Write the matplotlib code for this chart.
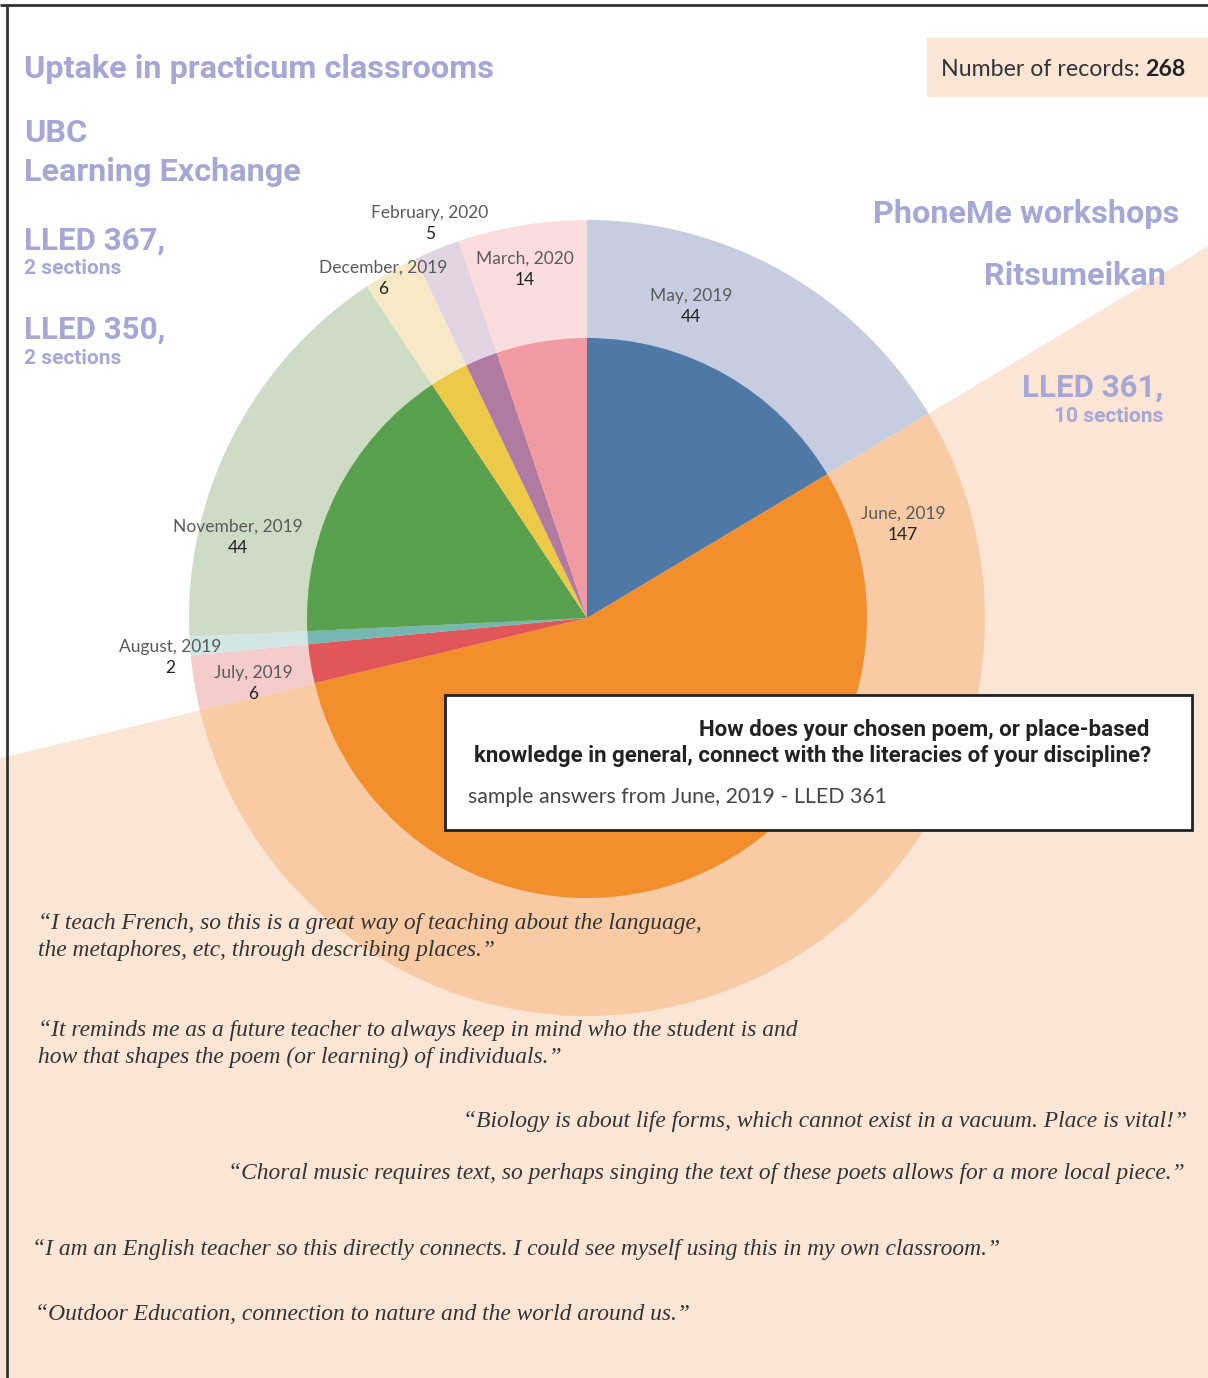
import matplotlib
matplotlib.use('Agg')
import matplotlib.pyplot as plt
from matplotlib.patches import Rectangle

W, H = 1208, 1378

# data
months = ["May, 2019", "June, 2019", "July, 2019", "August, 2019",
          "November, 2019", "December, 2019", "February, 2020", "March, 2020"]
counts = [44, 147, 6, 2, 44, 6, 5, 14]
total_records = 268

inner_colors = ["#4e79a7", "#f28e2b", "#e15759", "#76b7b2",
                "#59a14f", "#edc948", "#b07aa1", "#f29aa4"]
outer_colors = ["#c6cde0", "#f8cba4", "#f4cccb", "#d3e6e6",
                "#cfdcc5", "#f7e9c6", "#e2d4e0", "#fbdcdf"]
bg_colors = ["none", "#fbe6d6", "none", "none", "none", "none", "none", "none"]

# label placement (pixel coords of the month name; count sits below)
label_pos = [(691, 296), (903, 514), (253, 673), (170, 647),
             (238, 527), (383, 268), (430, 213), (525, 259)]

quotes = [
    ("\u201cI teach French, so this is a great way of teaching about the language,\nthe metaphores, etc, through describing places.\u201d", 38, 937, 'left'),
    ("\u201cIt reminds me as a future teacher to always keep in mind who the student is and\nhow that shapes the poem (or learning) of individuals.\u201d", 38, 1044, 'left'),
    ("\u201cBiology is about life forms, which cannot exist in a vacuum. Place is vital!\u201d", 1187, 1122, 'right'),
    ("\u201cChoral music requires text, so perhaps singing the text of these poets allows for a more local piece.\u201d", 1185, 1173, 'right'),
    ("\u201cI am an English teacher so this directly connects. I could see myself using this in my own classroom.\u201d", 32, 1249, 'left'),
    ("\u201cOutdoor Education, connection to nature and the world around us.\u201d", 35, 1314, 'left'),
]

LAV = "#a7a7d7"
cx, cy = 587, 618

fig = plt.figure(figsize=(W / 100, H / 100), dpi=100, facecolor='white')
ax = fig.add_axes([0, 0, 1, 1])

def Y(y):
    return H - y

# background wedge for the LLED 361 group, outer ring, inner pie
ax.pie(counts, radius=3000, center=(cx, Y(cy)), startangle=90, counterclock=False,
       colors=bg_colors, wedgeprops=dict(linewidth=0, zorder=0), frame=True)
ax.pie(counts, radius=398, center=(cx, Y(cy)), startangle=90, counterclock=False,
       colors=outer_colors, wedgeprops=dict(linewidth=0, zorder=1), frame=True)
ax.pie(counts, radius=280, center=(cx, Y(cy)), startangle=90, counterclock=False,
       colors=inner_colors, wedgeprops=dict(linewidth=0, zorder=2), frame=True)

ax.set_xlim(0, W)
ax.set_ylim(0, H)
ax.set_aspect('auto')
ax.axis('off')

# slice labels
for m, c, (lx, ly) in zip(months, counts, label_pos):
    ax.text(lx, Y(ly), m, ha='center', va='center', fontsize=12.5, family='Lato',
            color='#5a5a5a', zorder=5)
    ax.text(lx, Y(ly + 21), str(c), ha='center', va='center', fontsize=12.5, family='Lato',
            color='#222222', zorder=5)

# left headings
tk = dict(family='Roboto', fontweight='bold', color=LAV, zorder=5, va='center')
ax.text(24, Y(69), "Uptake in practicum classrooms", fontsize=23.3, **tk)
ax.text(24, Y(133), "UBC", fontsize=23.3, **tk)
ax.text(24, Y(172), "Learning Exchange", fontsize=23.3, **tk)
ax.text(24, Y(241), "LLED 367,", fontsize=22.5, **tk)
ax.text(24, Y(269), "2 sections", fontsize=15, **tk)
ax.text(24, Y(330), "LLED 350,", fontsize=22.5, **tk)
ax.text(24, Y(358), "2 sections", fontsize=15, **tk)

# right headings
ax.text(1179, Y(214), "PhoneMe workshops", fontsize=23.3, ha='right', **tk)
ax.text(1166, Y(276), "Ritsumeikan", fontsize=23.3, ha='right', **tk)
ax.text(1163, Y(388), "LLED 361,", fontsize=22.5, ha='right', **tk)
ax.text(1163, Y(416), "10 sections", fontsize=15, ha='right', **tk)

# record count box
ax.add_patch(Rectangle((927, Y(97)), W - 927, 59, facecolor="#fbe6d6", edgecolor='none', zorder=3))
t = ax.text(941, Y(69), "Number of records: ", fontsize=16.7, family='Lato',
            color='#333333', va='center', zorder=5)
fig.canvas.draw()
bb = t.get_window_extent()
ax.text(bb.x1, Y(69), str(total_records), fontsize=16.7, family='Lato', fontweight='bold',
        color='#222222', va='center', zorder=5)

# question box
ax.add_patch(Rectangle((445, Y(830)), 747, 135, facecolor='white', edgecolor='#222222',
                       linewidth=2, zorder=6))
ax.text(1149, Y(730), "How does your chosen poem, or place-based", fontsize=16,
        family='Roboto', fontweight='bold', color='#222222', ha='right', va='center', zorder=7)
ax.text(474, Y(756), "knowledge in general, connect with the literacies of your discipline?",
        fontsize=16, family='Roboto', fontweight='bold', color='#222222', va='center', zorder=7)
ax.text(468, Y(797), "sample answers from June, 2019 - LLED 361", fontsize=15.3, family='Lato',
        color='#444444', va='center', zorder=7)

# quotes
for txt, qx, qy, al in quotes:
    ax.text(qx, Y(qy), txt, fontsize=16.9, family='Liberation Serif', style='italic',
            color='#333333', ha=al, va='center', linespacing=1.38, zorder=5)

# frame lines (top and left)
ax.plot([0, W], [Y(5), Y(5)], color='#333333', lw=2, zorder=10, solid_capstyle='butt')
ax.plot([7, 7], [0, Y(5)], color='#333333', lw=2, zorder=10, solid_capstyle='butt')

fig.savefig("out.png", dpi=100, facecolor='white')
